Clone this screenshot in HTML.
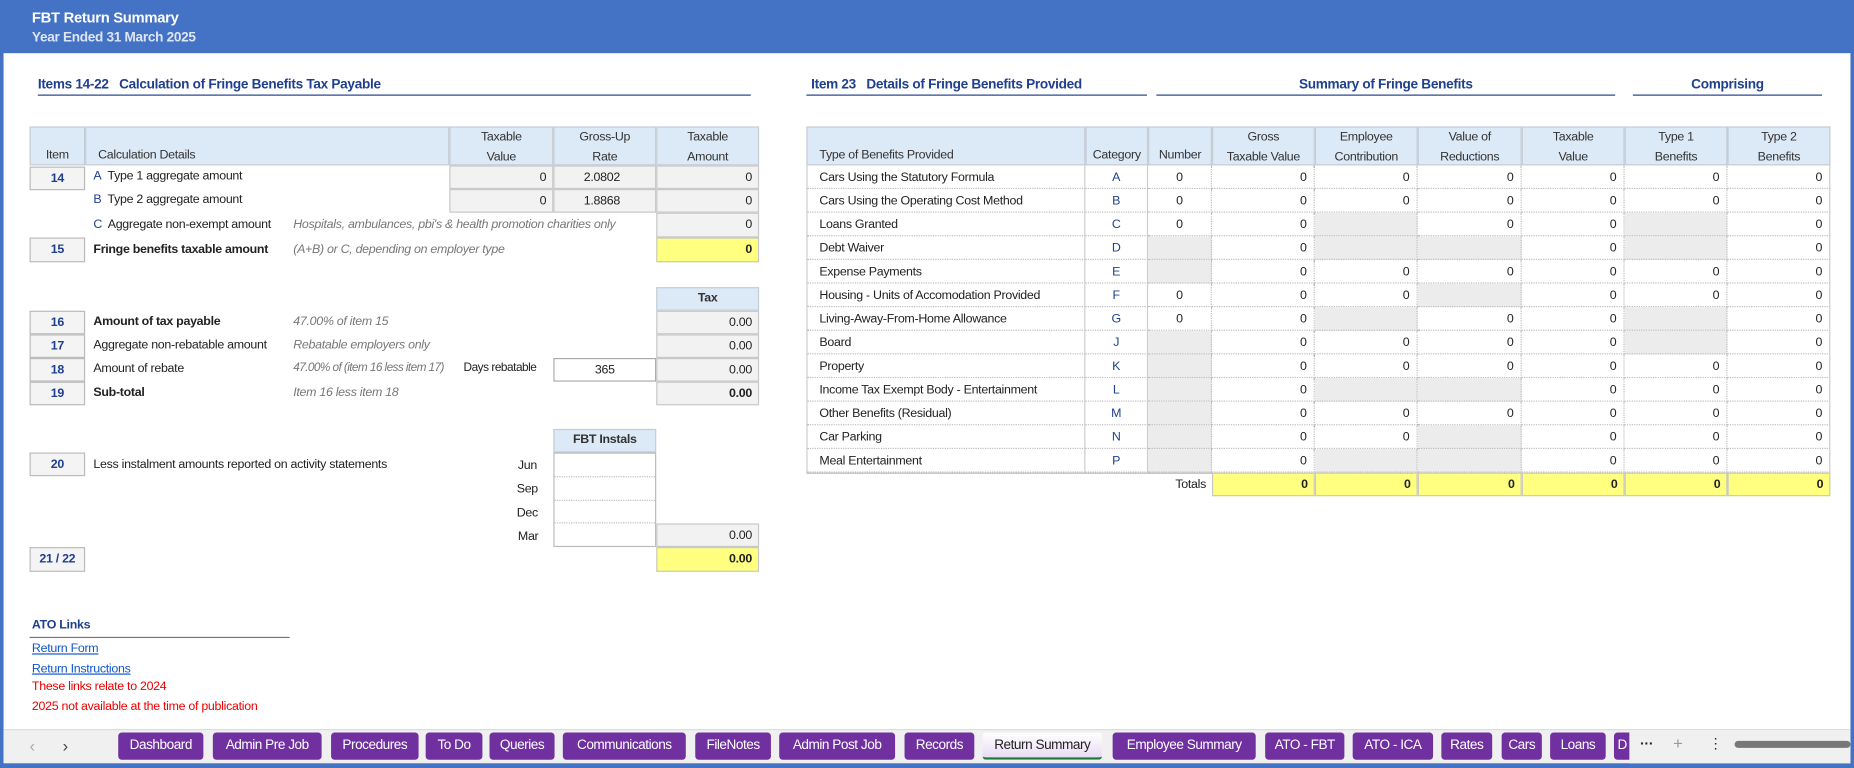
<!DOCTYPE html>
<html><head><meta charset="utf-8">
<style>
html,body{margin:0;padding:0;width:1854px;height:768px;overflow:hidden;background:#fff;}
#wrap{position:absolute;left:0;top:0;width:1568px;height:650px;transform-origin:0 0;transform:scale(1.18240,1.18154);font-family:"Liberation Sans Narrow","Liberation Sans",sans-serif;font-size:10.5px;letter-spacing:-0.25px;color:#222;}
.a{position:absolute;box-sizing:border-box;white-space:nowrap;}
.hdr{background:#dce9f6;border:1px solid #c4ccd4;color:#333;text-align:center;line-height:17px;}
.box{border:1px solid #bbb;background:#f4f4f4;text-align:center;color:#1f3f8f;font-weight:bold;line-height:18px;}
.val{background:#f2f2f2;border:1px solid #c8c8c8;text-align:right;padding-right:5px;line-height:18px;}
.yel{background:#ffff80;border:1px solid #c8c8c8;text-align:right;padding-right:5px;line-height:18px;font-weight:bold;}
.it{font-style:italic;color:#777;}
.blue{color:#1f3f8f;font-weight:bold;}
.tab{position:absolute;top:620px;height:23px;background:#7030a0;color:#fff;border-radius:3px;text-align:center;line-height:23px;font-size:11.5px;letter-spacing:-0.4px;overflow:hidden;box-sizing:border-box;}
.c{position:absolute;box-sizing:border-box;border-right:1px dotted #bbb;border-bottom:1px dotted #bbb;height:20px;line-height:20px;padding:0 6px;}
</style></head><body>
<div id="wrap">
<div class="a" style="left:0;top:0;width:1568px;height:45px;background:#4472c4;"></div>
<div class="a" style="left:27px;top:8px;color:#fff;font-weight:bold;font-size:12.5px;">FBT Return Summary</div>
<div class="a" style="left:27px;top:26px;color:#dde6f6;font-weight:bold;font-size:11.5px;">Year Ended 31 March 2025</div>
<div class="a" style="left:0;top:0;width:3px;height:650px;background:#4472c4;"></div>
<div class="a" style="left:1565px;top:0;width:3px;height:650px;background:#4472c4;"></div>

<div class="a blue" style="left:32px;top:66px;font-size:11.5px;">Items 14-22&nbsp;&nbsp; Calculation of Fringe Benefits Tax Payable</div>
<div class="a" style="left:32px;top:80px;width:603px;height:1px;background:#1f3f8f;"></div>

<div class="a hdr" style="left:25px;top:107px;width:47px;height:33px;padding-top:15px;">Item</div>
<div class="a hdr" style="left:72px;top:107px;width:308px;height:33px;padding-top:15px;text-align:left;padding-left:10px;">Calculation Details</div>
<div class="a hdr" style="left:380px;top:107px;width:88px;height:33px;">Taxable<br>Value</div>
<div class="a hdr" style="left:468px;top:107px;width:87px;height:33px;">Gross-Up<br>Rate</div>
<div class="a hdr" style="left:555px;top:107px;width:87px;height:33px;">Taxable<br>Amount</div>

<div class="a box" style="left:25px;top:141px;width:47px;height:20px;">14</div>
<div class="a" style="left:79px;top:143px;"><span class="blue" style="font-weight:normal">A</span>&nbsp; Type 1 aggregate amount</div>
<div class="a" style="left:79px;top:163px;"><span class="blue" style="font-weight:normal">B</span>&nbsp; Type 2 aggregate amount</div>
<div class="a" style="left:79px;top:184px;"><span class="blue" style="font-weight:normal">C</span>&nbsp; Aggregate non-exempt amount</div>
<div class="a it" style="left:248px;top:184px;">Hospitals, ambulances, pbi's &amp; health promotion charities only</div>
<div class="a val" style="left:380px;top:140px;width:88px;height:20px;">0</div>
<div class="a val" style="left:468px;top:140px;width:87px;height:20px;text-align:center;">2.0802</div>
<div class="a val" style="left:555px;top:140px;width:87px;height:20px;">0</div>
<div class="a val" style="left:380px;top:160px;width:88px;height:20px;">0</div>
<div class="a val" style="left:468px;top:160px;width:87px;height:20px;text-align:center;">1.8868</div>
<div class="a val" style="left:555px;top:160px;width:87px;height:20px;">0</div>
<div class="a val" style="left:555px;top:180px;width:87px;height:21px;">0</div>
<div class="a box" style="left:25px;top:201px;width:47px;height:21px;">15</div>
<div class="a" style="left:79px;top:205px;font-weight:bold;">Fringe benefits taxable amount</div>
<div class="a it" style="left:248px;top:205px;">(A+B) or C, depending on employer type</div>
<div class="a yel" style="left:555px;top:201px;width:87px;height:21px;">0</div>

<div class="a hdr" style="left:555px;top:243px;width:87px;height:20px;font-weight:bold;">Tax</div>
<div class="a box" style="left:25px;top:263px;width:47px;height:20px;">16</div>
<div class="a box" style="left:25px;top:283px;width:47px;height:20px;">17</div>
<div class="a box" style="left:25px;top:303px;width:47px;height:20px;">18</div>
<div class="a box" style="left:25px;top:323px;width:47px;height:20px;">19</div>
<div class="a" style="left:79px;top:266px;font-weight:bold;">Amount of tax payable</div>
<div class="a it" style="left:248px;top:266px;">47.00% of item 15</div>
<div class="a" style="left:79px;top:286px;">Aggregate non-rebatable amount</div>
<div class="a it" style="left:248px;top:286px;">Rebatable employers only</div>
<div class="a" style="left:79px;top:306px;">Amount of rebate</div>
<div class="a it" style="left:248px;top:306px;font-size:10px;letter-spacing:-0.5px;">47.00% of (item 16 less item 17)</div>
<div class="a" style="left:392px;top:306px;font-size:10px;letter-spacing:-0.4px;">Days rebatable</div>
<div class="a" style="left:468px;top:303px;width:87px;height:20px;border:1px solid #aaa;text-align:center;line-height:18px;">365</div>
<div class="a" style="left:79px;top:326px;font-weight:bold;">Sub-total</div>
<div class="a it" style="left:248px;top:326px;">Item 16 less item 18</div>
<div class="a val" style="left:555px;top:263px;width:87px;height:20px;">0.00</div>
<div class="a val" style="left:555px;top:283px;width:87px;height:20px;">0.00</div>
<div class="a val" style="left:555px;top:303px;width:87px;height:20px;">0.00</div>
<div class="a val" style="left:555px;top:323px;width:87px;height:20px;font-weight:bold;">0.00</div>

<div class="a hdr" style="left:468px;top:363px;width:87px;height:20px;font-weight:bold;">FBT Instals</div>
<div class="a box" style="left:25px;top:383px;width:47px;height:20px;">20</div>
<div class="a" style="left:79px;top:387px;">Less instalment amounts reported on activity statements</div>
<div class="a" style="left:438px;top:388px;">Jun</div>
<div class="a" style="left:437px;top:408px;">Sep</div>
<div class="a" style="left:437px;top:428px;">Dec</div>
<div class="a" style="left:438px;top:448px;">Mar</div>
<div class="a" style="left:468px;top:383px;width:87px;height:80px;border:1px solid #bbb;"></div>
<div class="a" style="left:469px;top:403px;width:85px;height:40px;border-top:1px dotted #bbb;border-bottom:1px dotted #bbb;"></div>
<div class="a" style="left:469px;top:423px;width:85px;height:1px;border-top:1px dotted #bbb;"></div>
<div class="a val" style="left:555px;top:443px;width:87px;height:20px;">0.00</div>
<div class="a box" style="left:25px;top:463px;width:47px;height:21px;">21 / 22</div>
<div class="a yel" style="left:555px;top:463px;width:87px;height:21px;">0.00</div>

<div class="a blue" style="left:27px;top:523px;">ATO Links</div>
<div class="a" style="left:25px;top:539px;width:220px;height:1px;background:#777;"></div>
<div class="a" style="left:27px;top:543px;color:#1155cc;text-decoration:underline;">Return Form</div>
<div class="a" style="left:27px;top:560px;color:#1155cc;text-decoration:underline;">Return Instructions</div>
<div class="a" style="left:27px;top:575px;color:#e00;">These links relate to 2024</div>
<div class="a" style="left:27px;top:592px;color:#e00;">2025 not available at the time of publication</div>

<div class="a blue" style="left:686px;top:66px;font-size:11.5px;">Item 23&nbsp;&nbsp; Details of Fringe Benefits Provided</div>
<div class="a" style="left:682px;top:80px;width:288px;height:1px;background:#1f3f8f;"></div>
<div class="a blue" style="left:978px;top:66px;width:388px;text-align:center;font-size:11.5px;">Summary of Fringe Benefits</div>
<div class="a" style="left:978px;top:80px;width:388px;height:1px;background:#1f3f8f;"></div>
<div class="a blue" style="left:1381px;top:66px;width:160px;text-align:center;font-size:11.5px;">Comprising</div>
<div class="a" style="left:1381px;top:80px;width:160px;height:1px;background:#1f3f8f;"></div>
<div id="rt"></div>

<div class="a" style="left:3px;top:617px;width:1562px;height:29px;background:#f0f0f0;border-top:1px solid #ddd;"></div>
<div class="a" style="left:0;top:646px;width:1568px;height:4px;background:#4472c4;"></div>
<div class="a" style="left:25px;top:623px;color:#aaa;font-size:14px;">&#8249;</div>
<div class="a" style="left:53px;top:623px;color:#444;font-size:14px;">&#8250;</div>
<div id="tabs"></div>
<div class="a" style="left:1378px;top:618px;width:187px;height:28px;background:#f0f0f0;"></div>
<div class="a" style="left:1387px;top:622px;font-size:12px;font-weight:bold;">&middot;&middot;&middot;</div>
<div class="a" style="left:1415px;top:621px;color:#999;font-size:14px;">+</div>
<div class="a" style="left:1445px;top:622px;font-size:12px;">&#8942;</div>
<div class="a" style="left:1467px;top:627px;width:98px;height:6px;background:#777;border-radius:3px;"></div>
</div>
<script>
var types=["Cars Using the Statutory Formula","Cars Using the Operating Cost Method","Loans Granted","Debt Waiver","Expense Payments","Housing - Units of Accomodation Provided","Living-Away-From-Home Allowance","Board","Property","Income Tax Exempt Body - Entertainment","Other Benefits (Residual)","Car Parking","Meal Entertainment"];
var cats=["A","B","C","D","E","F","G","J","K","L","M","N","P"];
var numberVals=[0,0,0,null,null,0,0,null,null,null,null,null,null];
var grossVals=[0,0,0,0,0,0,0,0,0,0,0,0,0];
var empVals=[0,0,null,null,0,0,null,0,0,null,0,0,null];
var redVals=[0,0,0,null,0,null,0,0,0,null,0,null,null];
var taxVals=[0,0,0,0,0,0,0,0,0,0,0,0,0];
var t1Vals=[0,0,null,null,0,0,null,null,0,0,0,0,0];
var t2Vals=[0,0,0,0,0,0,0,0,0,0,0,0,0];
var totals=[0,0,0,0,0,0];
var headers=["Type of Benefits Provided","Category","Number","Gross\nTaxable Value","Employee\nContribution","Value of\nReductions","Taxable\nValue","Type 1\nBenefits","Type 2\nBenefits"];
var tabNames=["Dashboard","Admin Pre Job","Procedures","To Do","Queries","Communications","FileNotes","Admin Post Job","Records","Return Summary","Employee Summary","ATO - FBT","ATO - ICA","Rates","Cars","Loans","D"];

var tabLayout=[[100,172],[180,272],[280,354],[360,408],[414,469],[476,580],[588,652],[659,757],[765,824],[831,932],[941,1062],[1070,1137],[1144,1212],[1219,1262],[1270,1304],[1311,1358],[1365,1400]];
var colX=[682,918,971,1025,1112,1199,1287,1374,1461,1548];
var rowY=function(i){return 140+i*20;};
var rt=document.getElementById('rt');
function mk(parent,x,y,w,h,txt,cls){var d=document.createElement('div');d.className=cls||'c';d.style.left=x+'px';d.style.top=y+'px';d.style.width=w+'px';d.style.height=h+'px';d.textContent=txt;parent.appendChild(d);return d;}
headers.forEach(function(h,j){
  var d=mk(rt,colX[j],107,colX[j+1]-colX[j],33,h,'a hdr');
  
  
  d.style.whiteSpace='pre';
  d.style.padding=(h.indexOf('\n')<0?'15px 0 0 0':'0');
  if(j==0){d.style.textAlign='left';d.style.paddingLeft='10px';}
});
var cols=[numberVals,grossVals,empVals,redVals,taxVals,t1Vals,t2Vals];
types.forEach(function(t,i){
  var y=rowY(i);
  var d=mk(rt,colX[0],y,colX[1]-colX[0],20,t);
  
  
  d.style.paddingLeft='10px';d.style.borderLeft='1px solid #ccc';d.style.borderRight='1px solid #ccc';
  var c=mk(rt,colX[1],y,colX[2]-colX[1],20,cats[i]);
  
  
  c.style.textAlign='center';c.style.color='#1f3f8f';c.style.borderRight='1px solid #ccc';
  cols.forEach(function(arr,k){
    var v=arr[i];
    var e=mk(rt,colX[k+2],y,colX[k+3]-colX[k+2],20,v===null?'':String(v));
    
    
    e.style.textAlign=k==0?'center':'right';
    if(k==6)e.style.borderRight='1px solid #ccc';
    if(v===null)e.style.background='#ececec';
  });
});
var ty=rowY(types.length);
var bl=mk(rt,colX[0],ty,colX[9]-colX[0],1,'','a');


bl.style.background='#bbb';
var tl=mk(rt,940,ty,80,20,'Totals','a');


tl.style.textAlign='right';tl.style.lineHeight='20px';
totals.forEach(function(v,k){
  var e=mk(rt,colX[k+3],ty,colX[k+4]-colX[k+3],20,String(v),'a yel');
  
  
});
var tabs=document.getElementById('tabs');
tabNames.forEach(function(n,i){
  var L=tabLayout[i];
  var d=document.createElement('div');
  d.className='tab';
  
  
  d.style.left=L[0]+'px';d.style.width=(L[1]-L[0])+'px';d.textContent=n;
  if(n==="Return Summary"){d.style.background='linear-gradient(#fff,#e8dcf2)';d.style.color='#222';d.style.borderBottom='2px solid #1a7a3a';}
  if(n==="D"){d.style.textAlign='left';d.style.paddingLeft='3px';}
  tabs.appendChild(d);
});
</script>
</body></html>
